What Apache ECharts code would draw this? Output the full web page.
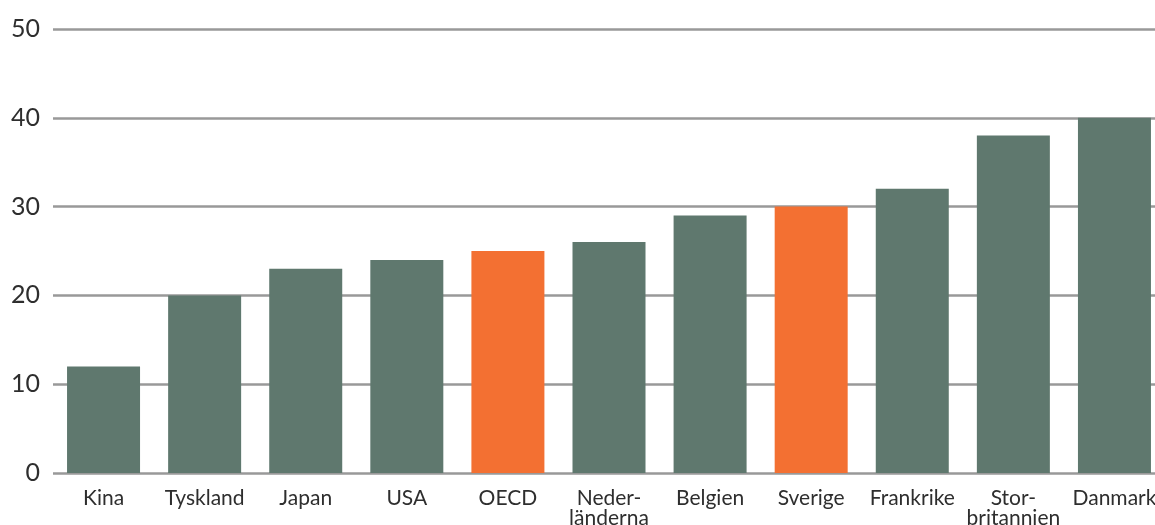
<!DOCTYPE html>
<html>
<head>
<meta charset="utf-8">
<script src="https://cdn.jsdelivr.net/npm/echarts@6/dist/echarts.min.js"></script>
<style>
  html, body { margin: 0; padding: 0; background: #fff; }
  #chart { width: 1155px; height: 525px; }
</style>
</head>
<body>
<div id="chart"></div>
<script>
// Countries along the x axis (line breaks where the name is hyphenated)
const categories = ['Kina', 'Tyskland', 'Japan', 'USA', 'OECD', 'Neder-\nländerna', 'Belgien', 'Sverige', 'Frankrike', 'Stor-\nbritannien', 'Danmark'];
// Value for each country
const values = [12, 20, 23, 24, 25, 26, 29, 30, 32, 38, 40];
// Countries drawn in the highlight colour
const highlighted = ['OECD', 'Sverige'];
// Value axis ticks
const yTicks = [0, 10, 20, 30, 40, 50];

const GREEN = '#5f786e';
const ORANGE = '#f37032';

const chart = echarts.init(document.getElementById('chart'), null, { renderer: 'canvas' });

chart.setOption({
  animation: false,
  // the plot runs slightly past the right edge, so the last label is cut off
  grid: { left: 53, width: 1112, top: 29, bottom: 52, containLabel: false, outerBoundsMode: 'none' },
  xAxis: {
    type: 'category',
    data: categories,
    axisLine: { show: false },
    axisTick: { show: false },
    axisLabel: {
      interval: 0,
      color: '#2e2e2e',
      fontFamily: 'Lato',
      fontSize: 21,
      lineHeight: 20,
      margin: 15
    }
  },
  yAxis: {
    type: 'value',
    min: yTicks[0],
    max: yTicks[yTicks.length - 1],
    interval: yTicks[1] - yTicks[0],
    axisLine: { show: false },
    axisTick: { show: false },
    splitLine: { lineStyle: { color: '#999999', width: 2.5 } },
    axisLabel: {
      color: '#2e2e2e',
      fontFamily: 'Lato',
      fontSize: 25,
      margin: 13,
      padding: [0, 0, 10, 0]
    }
  },
  series: [{
    type: 'bar',
    barWidth: 73,
    data: values.map((v, i) => ({
      value: v,
      itemStyle: { color: highlighted.includes(categories[i]) ? ORANGE : GREEN }
    }))
  }]
});
</script>
</body>
</html>
